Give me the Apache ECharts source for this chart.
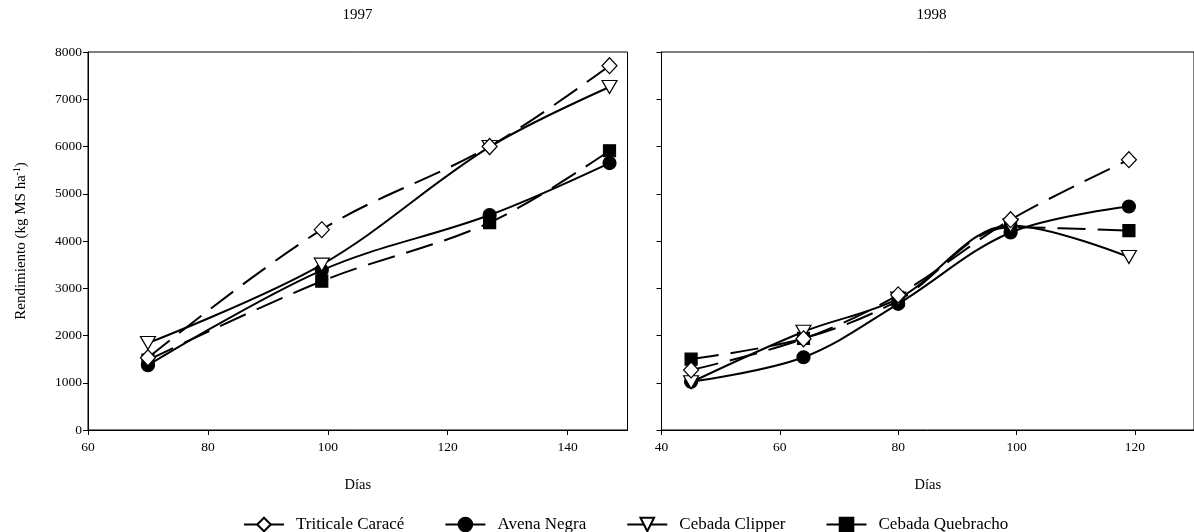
<!DOCTYPE html>
<html>
<head>
<meta charset="utf-8">
<script src="https://cdn.jsdelivr.net/npm/echarts@6/dist/echarts.min.js"></script>
<style>
html,body{margin:0;padding:0;background:#fff;}
#chart{width:1194px;height:532px;}
</style>
</head>
<body>
<div id="chart"></div>
<script>
// ---- data ----
const seriesNames = ['Triticale Caracé', 'Avena Negra', 'Cebada Clipper', 'Cebada Quebracho'];
const panelTitles = ['1997', '1998'];

const days1997 = [70, 99, 127, 147];
const triticale1997 = [1530, 4240, 6000, 7710];
const avena1997 = [1370, 3380, 4550, 5650];
const clipper1997 = [1840, 3500, 5990, 7260];
const quebracho1997 = [1480, 3150, 4390, 5910];

const days1998 = [45, 64, 80, 99, 119];
const triticale1998 = [1270, 1930, 2860, 4450, 5720];
const avena1998 = [1020, 1540, 2670, 4180, 4730];
const clipper1998 = [1010, 2080, 2780, 4330, 3660];
const quebracho1998 = [1500, 1940, 2740, 4290, 4220];

const xTicks1997 = [60, 80, 100, 120, 140];
const xTicks1998 = [40, 60, 80, 100, 120];

// ---- styling ----
const FONT = '"Liberation Serif", "DejaVu Serif", serif';
const styles = [
  {symbol: 'diamond', size: [15, 16], fill: '#fff', rotate: 0, dash: [28, 12], z: 6},
  {symbol: 'circle', size: 13, fill: '#000', rotate: 0, dash: 'solid', z: 4},
  {symbol: 'triangle', size: [15, 13], fill: '#fff', rotate: 180, dash: 'solid', z: 5},
  {symbol: 'rect', size: 12, fill: '#000', rotate: 0, dash: [28, 12], z: 3}
];

function pairs(xs, ys) { return xs.map((x, i) => [x, ys[i]]); }

const data1997 = [triticale1997, avena1997, clipper1997, quebracho1997];
const data1998 = [triticale1998, avena1998, clipper1998, quebracho1998];

const series = [];
[[days1997, data1997], [days1998, data1998]].forEach(([days, sets], p) => {
  sets.forEach((vals, i) => {
    const s = styles[i];
    series.push({
      name: seriesNames[i],
      type: 'line',
      xAxisIndex: p, yAxisIndex: p,
      data: pairs(days, vals),
      smooth: 0.35,
      symbol: s.symbol,
      symbolSize: s.size,
      symbolRotate: s.rotate,
      showAllSymbol: true,
      lineStyle: {color: '#000', width: 2, type: s.dash},
      itemStyle: {color: s.fill, borderColor: '#000', borderWidth: 1.2},
      emphasis: {disabled: true},
      z: s.z
    });
  });
});

const axisCommonX = (min, max, ticks) => ({
  type: 'value', min: min, max: max,
  name: 'Días', nameLocation: 'middle', nameGap: 48,
  nameTextStyle: {fontFamily: FONT, fontSize: 14.5, color: '#000'},
  axisLine: {show: true, onZero: false, lineStyle: {color: '#000', width: 1}},
  axisTick: {show: true, inside: false, length: 5, customValues: ticks, lineStyle: {color: '#000'}},
  axisLabel: {customValues: ticks, fontFamily: FONT, fontSize: 13.5, color: '#000', margin: 10},
  splitLine: {show: false}
});

const chart = echarts.init(document.getElementById('chart'), null, {renderer: 'canvas'});
chart.setOption({
  animation: false,
  backgroundColor: '#fff',
  grid: [
    {left: 88, top: 52, width: 539.5, height: 378, show: true, borderColor: '#000', borderWidth: 1, backgroundColor: 'transparent'},
    {left: 661.5, top: 52, width: 540, height: 378, show: true, borderColor: '#000', borderWidth: 1, backgroundColor: 'transparent'}
  ],
  xAxis: [
    Object.assign({gridIndex: 0}, axisCommonX(60, 150, xTicks1997)),
    Object.assign({gridIndex: 1}, axisCommonX(40, 130, xTicks1998))
  ],
  yAxis: [
    {
      gridIndex: 0, type: 'value', min: 0, max: 8000, interval: 1000,
      name: '{a|Rendimiento (kg MS ha}{s|-1}{a|)}',
      nameLocation: 'middle', nameGap: 58, nameRotate: 90,
      nameTextStyle: {fontFamily: FONT, fontSize: 15, color: '#000',
        rich: {a: {fontFamily: FONT, fontSize: 15, color: '#000', lineHeight: 18},
               s: {fontFamily: FONT, fontSize: 9.5, color: '#000', verticalAlign: 'top', lineHeight: 18, padding: [0, 0, 6, 0]}}},
      axisLine: {show: true, lineStyle: {color: '#000', width: 1}},
      axisTick: {show: true, length: 5, lineStyle: {color: '#000'}},
      axisLabel: {fontFamily: FONT, fontSize: 13.5, color: '#000', margin: 6, formatter: v => String(v)},
      splitLine: {show: false}
    },
    {
      gridIndex: 1, type: 'value', min: 0, max: 8000, interval: 1000,
      axisLine: {show: true, lineStyle: {color: '#000', width: 1}},
      axisTick: {show: true, length: 5, lineStyle: {color: '#000'}},
      axisLabel: {show: false},
      splitLine: {show: false}
    }
  ],
  legend: {
    data: seriesNames,
    left: 238, top: 511,
    itemWidth: 40, itemHeight: 17, itemGap: 40,
    textStyle: {fontFamily: FONT, fontSize: 17, color: '#000', padding: [0, 0, 0, 7]},
    lineStyle: {type: 'solid', width: 2, color: '#000'},
    selectedMode: false
  },
  graphic: [
    {type: 'text', x: 357.5, y: 8, style: {text: panelTitles[0], fill: '#000', font: '15px ' + FONT, textAlign: 'center', textVerticalAlign: 'top'}},
    {type: 'text', x: 931.5, y: 8, style: {text: panelTitles[1], fill: '#000', font: '15px ' + FONT, textAlign: 'center', textVerticalAlign: 'top'}}
  ],
  series: series
});
</script>
</body>
</html>
